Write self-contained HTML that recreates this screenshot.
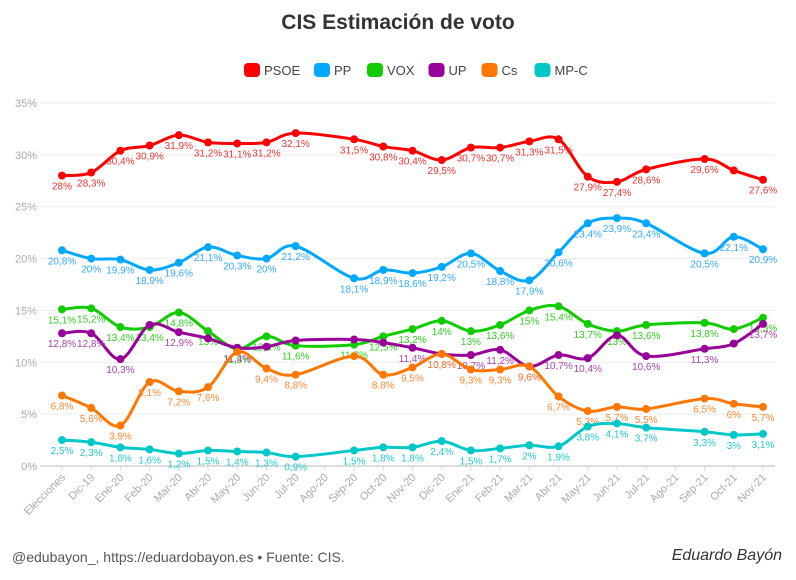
<!DOCTYPE html>
<html><head><meta charset="utf-8">
<style>
body{margin:0;background:#fff;width:796px;height:575px;overflow:hidden;font-family:"Liberation Sans",sans-serif}
svg text{font-family:"Liberation Sans",sans-serif}
</style></head>
<body>
<svg id="chart" width="796" height="575">
<text x="398" y="29" text-anchor="middle" font-size="21" font-weight="bold" fill="#333">CIS Estimación de voto</text>
<g id="legend"></g>
<g id="grid"></g>
<g id="series"></g>
<text x="12" y="562" font-size="14" fill="#555">@edubayon_, https://eduardobayon.es • Fuente: CIS.</text>
<text x="782" y="560" text-anchor="end" font-size="16" font-style="italic" fill="#333" font-family="Liberation Serif">Eduardo Bayón</text>
</svg>
<script>
const categories=["Elecciones","Dic-19","Ene-20","Feb-20","Mar-20","Abr-20","May-20","Jun-20","Jul-20","Ago-20","Sep-20","Oct-20","Nov-20","Dic-20","Ene-21","Feb-21","Mar-21","Abr-21","May-21","Jun-21","Jul-21","Ago-21","Sep-21","Oct-21","Nov-21"];
const psoe=[28,28.3,30.4,30.9,31.9,31.2,31.1,31.2,32.1,null,31.5,30.8,30.4,29.5,30.7,30.7,31.3,31.5,27.9,27.4,28.6,null,29.6,28.5,27.6];
const pp=[20.8,20,19.9,18.9,19.6,21.1,20.3,20,21.2,null,18.1,18.9,18.6,19.2,20.5,18.8,17.9,20.6,23.4,23.9,23.4,null,20.5,22.1,20.9];
const vox=[15.1,15.2,13.4,13.4,14.8,13,11.3,12.5,11.6,null,11.7,12.5,13.2,14,13,13.6,15,15.4,13.7,13,13.6,null,13.8,13.2,14.3];
const up=[12.8,12.8,10.3,13.6,12.9,12.3,11.4,11.5,12.1,null,12.2,11.9,11.4,10.8,10.7,11.2,9.6,10.7,10.4,12.6,10.6,null,11.3,11.8,13.7];
const cs=[6.8,5.6,3.9,8.1,7.2,7.6,11,9.4,8.8,null,10.6,8.8,9.5,10.8,9.3,9.3,9.6,6.7,5.3,5.7,5.5,null,6.5,6,5.7];
const mpc=[2.5,2.3,1.8,1.6,1.2,1.5,1.4,1.3,0.9,null,1.5,1.8,1.8,2.4,1.5,1.7,2,1.9,3.8,4.1,3.7,null,3.3,3,3.1];
const yTicks=[0,5,10,15,20,25,30,35];
const seriesNames=["PSOE","PP","VOX","UP","Cs","MP-C"];
const seriesColors=["#ff0000","#00a8ff","#11cc00","#990099","#ff7700","#00c8c8"];
const labelColors=["#ee3333","#33aaff","#33cc22","#aa44aa","#ff8833","#22cccc"];
const allSeries=[psoe,pp,vox,up,cs,mpc];
const hiddenLabels=[[23],[],[23],[3,5,7,8,10,11,19,23],[6,10],[]];

const NS="http://www.w3.org/2000/svg";
const x0=62,x1=763,yb=466,yt=103,ymax=35;
const xs=i=>x0+i*(x1-x0)/(categories.length-1);
const ys=v=>yb-v/ymax*(yb-yt);
function el(t,a,p){const e=document.createElementNS(NS,t);for(const k in a)e.setAttribute(k,a[k]);p.appendChild(e);return e;}
const grid=document.getElementById('grid');
yTicks.forEach(t=>{
 const l=el('line',{x1:40,x2:775,y1:ys(t),y2:ys(t),stroke:t===0?'#ddd':'#eee','stroke-width':t===0?2:1},grid);
 
 
 const tx=el('text',{x:37,y:ys(t)+4,'text-anchor':'end','font-size':11,fill:'#aaa'},grid);
 tx.textContent=t+'%';
 
 
});
categories.forEach((c,i)=>{
 const tk=el('line',{x1:xs(i),x2:xs(i),y1:yb,y2:yb+5,stroke:'#ddd'},grid);
 
 
 const tx=el('text',{x:0,y:0,'text-anchor':'end','font-size':11,fill:'#aaa',transform:`translate(${xs(i)+4},${yb+12}) rotate(-45)`},grid);
 tx.textContent=c;
 
 
});
const lg=document.getElementById('legend');
let lx=244;
seriesNames.forEach((n,i)=>{
 const g=el('g',{},lg);
 
 
 el('rect',{x:lx,y:63,width:16,height:14,rx:4,fill:seriesColors[i]},g);
 const t=el('text',{x:lx+20,y:75,'font-size':13,fill:'#444'},g);t.textContent=n;
 lx+=20+n.length*8.5+16;
});
function smooth(pts){
 let d=`M${pts[0][0]},${pts[0][1]}`;
 for(let i=0;i<pts.length-1;i++){
  const p0=pts[i-1]||pts[i],p1=pts[i],p2=pts[i+1],p3=pts[i+2]||p2;
  const c1=[p1[0]+(p2[0]-p0[0])/6,p1[1]+(p2[1]-p0[1])/6],c2=[p2[0]-(p3[0]-p1[0])/6,p2[1]-(p3[1]-p1[1])/6];
  d+=`C${c1[0]},${c1[1]} ${c2[0]},${c2[1]} ${p2[0]},${p2[1]}`;
 }
 return d;
}
const sg=document.getElementById('series');
allSeries.forEach((data,s)=>{
 const g=el('g',{},sg);
 
 
 const pts=[];data.forEach((v,i)=>{if(v!==null)pts.push([xs(i),ys(v),v,i]);});
 el('path',{d:smooth(pts),fill:'none',stroke:seriesColors[s],'stroke-width':3},g);
 pts.forEach(p=>{
  const c=el('circle',{cx:p[0],cy:p[1],r:4,fill:seriesColors[s]},g);
  
  
  if(hiddenLabels[s].includes(p[3]))return;
  const t=el('text',{x:p[0],y:p[1]+14,'text-anchor':'middle','font-size':10,fill:labelColors[s]},g);
  t.textContent=String(p[2]).replace('.',',')+'%';
  
  
 });
});
</script>
</body></html>
